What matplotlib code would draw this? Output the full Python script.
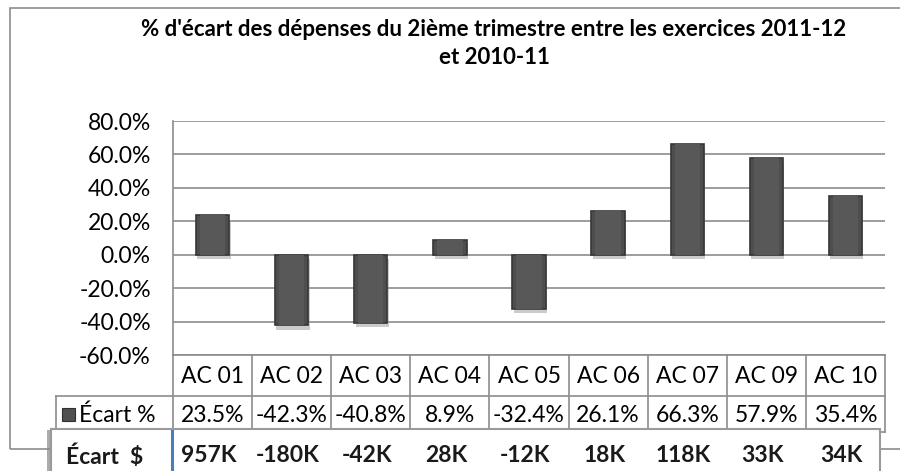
import numpy as np
import matplotlib.pyplot as plt
import matplotlib.patheffects as pe
from matplotlib.transforms import blended_transform_factory
from matplotlib.patches import Rectangle

categories = ['AC 01', 'AC 02', 'AC 03', 'AC 04', 'AC 05', 'AC 06', 'AC 07', 'AC 09', 'AC 10']
ecart_pct = [23.5, -42.3, -40.8, 8.9, -32.4, 26.1, 66.3, 57.9, 35.4]
ecart_dollars = ['957K', '-180K', '-42K', '28K', '-12K', '18K', '118K', '33K', '34K']
yticks = [80, 60, 40, 20, 0, -20, -40, -60]

plt.rcParams['font.family'] = ['Lato', 'DejaVu Sans']

W, H = 900, 471
fig = plt.figure(figsize=(9, 4.71), dpi=100)

def fy(p):
    # pixel row from top -> figure fraction
    return 1 - p / H

def fx(p):
    return p / W

ax = fig.add_axes([fx(173), fy(355), fx(885) - fx(173), fy(121) - fy(355)])
x = np.arange(len(categories))

bars = ax.bar(x, ecart_pct, width=0.42, color='#4e4e4e', edgecolor='#363636',
              linewidth=1.2, zorder=3)
for b in bars:
    b.set_path_effects([pe.SimplePatchShadow(offset=(1, -3), shadow_rgbFace='#999999', alpha=0.5),
                        pe.Normal()])
# slightly lighter inner face for the bevelled look
ax.bar(x, ecart_pct, width=0.32, color='#585858', linewidth=0, zorder=4)

ax.set_xlim(-0.5, len(categories) - 0.5)
ax.set_ylim(-60, 80)
ax.set_yticks(yticks)
ax.set_yticklabels(['%.1f%%' % v for v in yticks], fontsize=16.5)
ax.tick_params(axis='y', length=0, pad=16)
ax.set_xticks([])
ax.grid(axis='y', color='#8c8c8c', linewidth=1.2, zorder=0)
for s in ['top', 'right', 'bottom']:
    ax.spines[s].set_visible(False)
ax.spines['left'].set_color('#8c8c8c')
ax.spines['left'].set_linewidth(1.2)

fig.text(fx(494), fy(30), "% d'écart des dépenses du 2ième trimestre entre les exercices 2011-12",
         ha='center', va='center', fontsize=16, fontweight='bold')
fig.text(fx(494), fy(58), "et 2010-11", ha='center', va='center', fontsize=16, fontweight='bold')

# outer chart frame
fig.patches.append(Rectangle((fx(10), fy(449)), fx(960) - fx(10), fy(8) - fy(449),
                             transform=fig.transFigure, fill=False, edgecolor='#8c8c8c',
                             linewidth=1.2, zorder=0))

# data table under the plot
tr = blended_transform_factory(ax.transData, fig.transFigure)
gcol = '#8c8c8c'
edges = np.arange(len(categories) + 1) - 0.5
y_h_top, y_h_bot, y_r_bot = fy(355), fy(396), fy(432)
for e in edges:
    ax.plot([e, e], [y_h_top, y_r_bot], transform=tr, color=gcol, lw=1.2, clip_on=False)
ax.plot([edges[0], edges[-1]], [y_h_top, y_h_top], transform=tr, color=gcol, lw=1.2, clip_on=False)
ax.plot([edges[0], edges[-1]], [y_r_bot, y_r_bot], transform=tr, color=gcol, lw=1.2, clip_on=False)
fig.add_artist(plt.Line2D([fx(56), fx(885)], [y_h_bot, y_h_bot], color=gcol, lw=1.2))
fig.add_artist(plt.Line2D([fx(56), fx(173)], [y_r_bot, y_r_bot], color=gcol, lw=1.2))
fig.add_artist(plt.Line2D([fx(56), fx(56)], [y_h_bot, y_r_bot], color=gcol, lw=1.2))

for i, c in enumerate(categories):
    fig.text(i, (y_h_top + y_h_bot) / 2 - 0.003, c, transform=tr, ha='center', va='center',
             fontsize=16.5)
    fig.text(i, (y_h_bot + y_r_bot) / 2 - 0.003, '%.1f%%' % ecart_pct[i], transform=tr,
             ha='center', va='center', fontsize=16.5)

fig.patches.append(Rectangle((fx(62), fy(421)), fx(13), fy(408) - fy(421),
                             transform=fig.transFigure, facecolor='#505050',
                             edgecolor='#303030', lw=0.8))
fig.text(fx(79), (y_h_bot + y_r_bot) / 2 - 0.003, 'Écart %', ha='left', va='center', fontsize=16.5)

# pasted "Écart $" strip
strip = Rectangle((fx(51), fy(480)), fx(880) - fx(51), fy(429) - fy(480),
                  transform=fig.transFigure, facecolor='white', edgecolor='#9a9a9a',
                  linewidth=1.5, zorder=5)
strip.set_path_effects([pe.SimplePatchShadow(offset=(-3, -1), shadow_rgbFace='#888888', alpha=0.7),
                        pe.Normal()])
fig.patches.append(strip)
fig.add_artist(plt.Line2D([fx(172), fx(172)], [fy(431), fy(471)], color='#4a7ebb', lw=2.2, zorder=6))
fig.text(fx(66), fy(456), 'Écart  $', ha='left', va='center', fontsize=16.5,
         fontweight='bold', color='#1a1a1a', zorder=6)
for i, v in enumerate(ecart_dollars):
    fig.text(i - 0.05, fy(456), v, transform=tr, ha='center', va='center', fontsize=16.5,
             fontweight='bold', color='#1a1a1a', zorder=6)

fig.savefig('out.png', dpi=100)
